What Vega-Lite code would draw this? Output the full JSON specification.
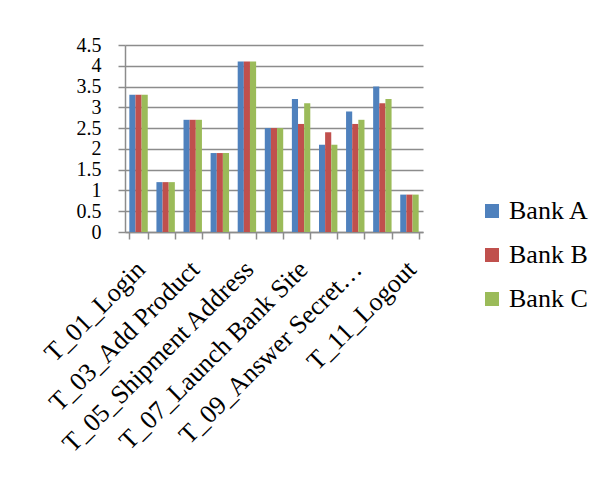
{
  "$schema": "https://vega.github.io/schema/vega-lite/v6.json",
  "autosize": {"type": "none"},
  "padding": {"left": 125, "top": 45, "right": 191, "bottom": 265},
  "width": 298,
  "height": 187,
  "background": "white",
  "config": {
    "font": "Liberation Serif",
    "view": {"stroke": null},
    "axis": {"labelFont": "Liberation Serif", "labelColor": "#000000", "labelFontSize": 26}
  },
  "data": {
    "values": [
      {"task": "T_01_Login", "bank": "Bank A", "value": 3.3},
      {"task": "T_01_Login", "bank": "Bank B", "value": 3.3},
      {"task": "T_01_Login", "bank": "Bank C", "value": 3.3},
      {"task": "T_02", "bank": "Bank A", "value": 1.2},
      {"task": "T_02", "bank": "Bank B", "value": 1.2},
      {"task": "T_02", "bank": "Bank C", "value": 1.2},
      {"task": "T_03_Add Product", "bank": "Bank A", "value": 2.7},
      {"task": "T_03_Add Product", "bank": "Bank B", "value": 2.7},
      {"task": "T_03_Add Product", "bank": "Bank C", "value": 2.7},
      {"task": "T_04", "bank": "Bank A", "value": 1.9},
      {"task": "T_04", "bank": "Bank B", "value": 1.9},
      {"task": "T_04", "bank": "Bank C", "value": 1.9},
      {"task": "T_05_Shipment Address", "bank": "Bank A", "value": 4.1},
      {"task": "T_05_Shipment Address", "bank": "Bank B", "value": 4.1},
      {"task": "T_05_Shipment Address", "bank": "Bank C", "value": 4.1},
      {"task": "T_06", "bank": "Bank A", "value": 2.5},
      {"task": "T_06", "bank": "Bank B", "value": 2.5},
      {"task": "T_06", "bank": "Bank C", "value": 2.5},
      {"task": "T_07_Launch  Bank Site", "bank": "Bank A", "value": 3.2},
      {"task": "T_07_Launch  Bank Site", "bank": "Bank B", "value": 2.6},
      {"task": "T_07_Launch  Bank Site", "bank": "Bank C", "value": 3.1},
      {"task": "T_08", "bank": "Bank A", "value": 2.1},
      {"task": "T_08", "bank": "Bank B", "value": 2.4},
      {"task": "T_08", "bank": "Bank C", "value": 2.1},
      {"task": "T_09_Answer Secret…", "bank": "Bank A", "value": 2.9},
      {"task": "T_09_Answer Secret…", "bank": "Bank B", "value": 2.6},
      {"task": "T_09_Answer Secret…", "bank": "Bank C", "value": 2.7},
      {"task": "T_10", "bank": "Bank A", "value": 3.5},
      {"task": "T_10", "bank": "Bank B", "value": 3.1},
      {"task": "T_10", "bank": "Bank C", "value": 3.2},
      {"task": "T_11_Logout", "bank": "Bank A", "value": 0.9},
      {"task": "T_11_Logout", "bank": "Bank B", "value": 0.9},
      {"task": "T_11_Logout", "bank": "Bank C", "value": 0.9}
    ]
  },
  "mark": {"type": "bar"},
  "encoding": {
    "x": {
      "field": "task",
      "type": "nominal",
      "sort": null,
      "scale": {"paddingInner": 0.32, "paddingOuter": 0.16},
      "axis": {
        "title": null,
        "labelAngle": -45,
        "labelAlign": "right",
        "labelBaseline": "middle",
        "labelPadding": 26,
        "labelOffset": 2,
        "labelOverlap": false,
        "labelLimit": 0,
        "labelExpr": "length(datum.label) > 4 ? datum.label : ''",
        "tickBand": "extent",
        "tickSize": 7,
        "tickColor": "#8c8c8c",
        "tickWidth": 1.5,
        "domainColor": "#8c8c8c",
        "domainWidth": 1.5,
        "grid": false
      }
    },
    "xOffset": {"field": "bank", "type": "nominal"},
    "y": {
      "field": "value",
      "type": "quantitative",
      "scale": {"domain": [0, 4.5], "nice": false},
      "axis": {
        "title": null,
        "values": [0, 0.5, 1, 1.5, 2, 2.5, 3, 3.5, 4, 4.5],
        "labelExpr": "'' + datum.value",
        "labelFontSize": 20,
        "labelOverlap": false,
        "labelPadding": 17,
        "labelBaseline": "middle",
        "tickSize": 7,
        "tickColor": "#8c8c8c",
        "tickWidth": 1.5,
        "domainColor": "#8c8c8c",
        "domainWidth": 1.5,
        "grid": true,
        "gridColor": "#8c8c8c",
        "gridWidth": 1.5
      }
    },
    "color": {
      "field": "bank",
      "type": "nominal",
      "scale": {"domain": ["Bank A", "Bank B", "Bank C"], "range": ["#4F81BD", "#C0504D", "#9BBB59"]},
      "legend": {
        "title": null,
        "orient": "none",
        "legendX": 354,
        "legendY": 153,
        "symbolType": "square",
        "symbolSize": 196,
        "symbolStrokeWidth": 0,
        "labelFont": "Liberation Serif",
        "labelFontSize": 26,
        "labelColor": "#000000",
        "rowPadding": 18,
        "labelOffset": 4,
        "padding": 0
      }
    }
  }
}
